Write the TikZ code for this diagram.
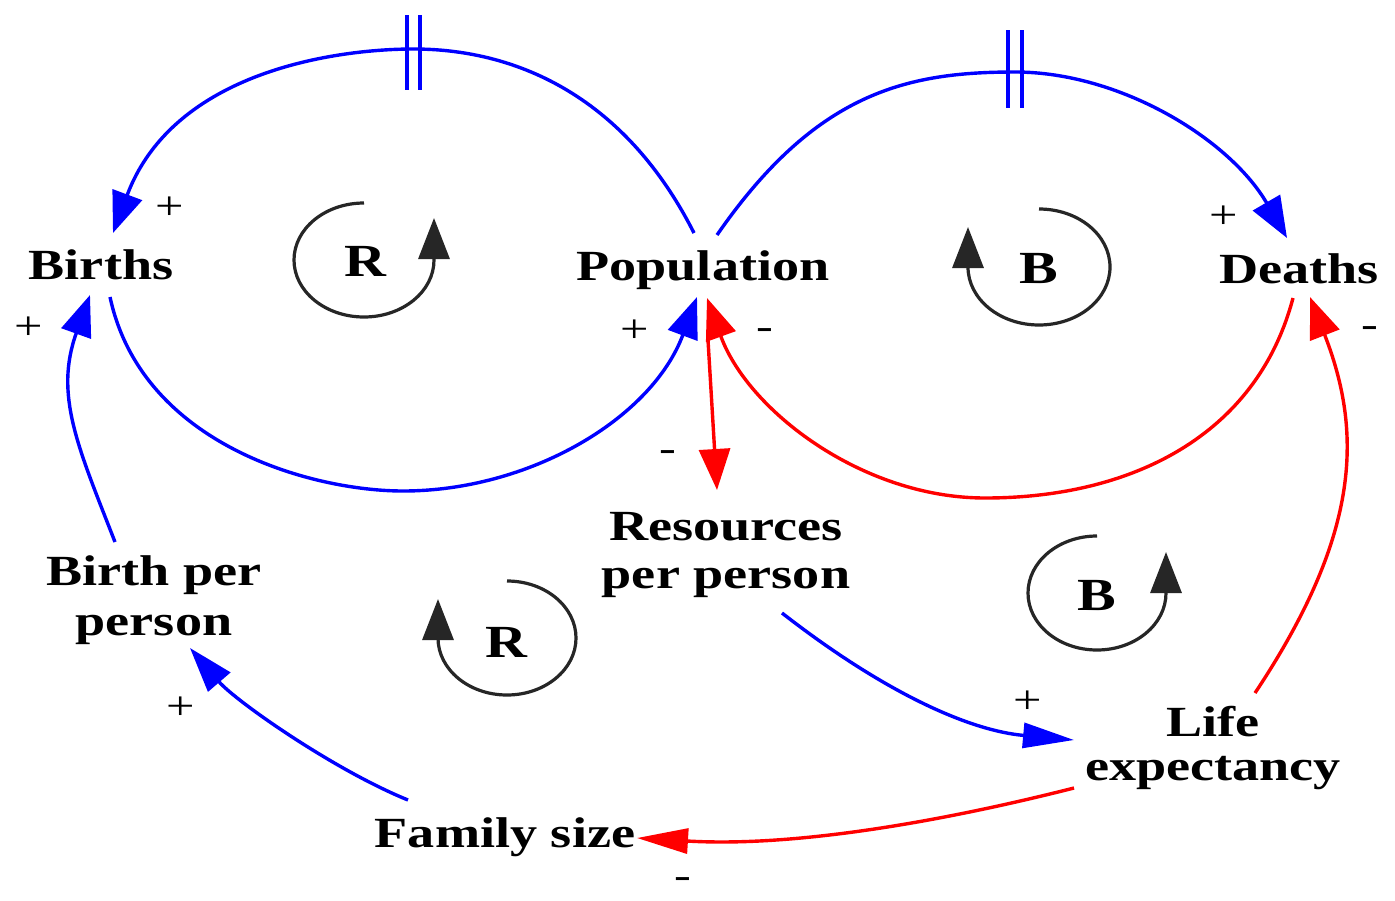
\documentclass[tikz,border=0pt]{standalone}
\usepackage{fontspec}
\newfontfamily\lblfont[FakeStretch=1.26]{Liberation Serif}
\usetikzlibrary{arrows.meta}
\begin{document}
\begin{tikzpicture}[x=1pt,y=-1pt,
  lab/.style={inner sep=0pt, anchor=base, font=\lblfont\bfseries\fontsize{43}{48}\selectfont},
  looplab/.style={inner sep=0pt, anchor=base, font=\lblfont\bfseries\fontsize{46}{50}\selectfont},
  sgn/.style={inner sep=0pt, font=\lblfont\fontsize{40}{44}\selectfont},
  bl/.style={draw=blue, line width=3.4pt},
  rd/.style={draw=red, line width=3.4pt},
  lp/.style={draw=black!85, line width=3.2pt},
  av/.style={-{Triangle[length=41pt,width=31pt]}},
  ah/.style={-{Triangle[length=51pt,width=25pt]}},
  ad/.style={-{Triangle[length=45pt,width=29pt]}},
  delaymark/.style={draw=blue, line width=3.4pt}
]
\fill[white] (0,0) rectangle (1395,900);
\useasboundingbox (0,0) rectangle (1395,900);

% variables
\node[lab] (births) at (101,279) {Births};
\node[lab] (population) at (703,280) {Population};
\node[lab] (deaths) at (1299,283) {Deaths};
\node[lab] (resources) at (726,540) {\begin{tabular}[t]{@{}c@{}}Resources\\per person\end{tabular}};
\node[lab, font=\lblfont\bfseries\fontsize{43}{50}\selectfont] (bpp) at (154,585) {\begin{tabular}[t]{@{}c@{}}Birth per\\person\end{tabular}};
\node[lab, font=\lblfont\bfseries\fontsize{43}{44}\selectfont] (life) at (1213,736) {\begin{tabular}[t]{@{}c@{}}Life\\expectancy\end{tabular}};
\node[lab] (family) at (505,847) {Family size};

% loop labels
\node[looplab] (loopR1) at (365,276) {R};
\node[looplab] (loopB1) at (1039,283) {B};
\node[looplab] (loopR2) at (506,657) {R};
\node[looplab] (loopB2) at (1097,610) {B};

% loop arrows
\draw[lp,av] (364,203) arc[start angle=270, end angle=0, x radius=70, y radius=57] -- ++(0,-42);
\draw[lp,av] (1039,209) arc[start angle=270, end angle=540, x radius=71, y radius=58] -- ++(0,-40);
\draw[lp,av] (507,581) arc[start angle=270, end angle=540, x radius=69, y radius=57] -- ++(0,-39);
\draw[lp,av] (1097,536) arc[start angle=270, end angle=0, x radius=69, y radius=57] -- ++(0,-41);

% delayed links
\coordinate (dL) at (413.5,49);
\coordinate (dR) at (1015,72);
\draw[bl,av] ([shift={(-9,-47)}]population.base) .. controls (622,91) and (510,49) .. (dL)
  .. controls (339,49) and (174,70) .. ([shift={(12,-46)}]births.base);
\draw[delaymark] ([shift={(-6.5,-34)}]dL) -- ([shift={(-6.5,41)}]dL);
\draw[delaymark] ([shift={(6.5,-34)}]dL) -- ([shift={(6.5,41)}]dL);

\draw[bl,av] ([shift={(14,-45)}]population.base) .. controls (816,92) and (907,72) .. (dR)
  .. controls (1120,72) and (1229.5,139) .. ([shift={(-12,-45)}]deaths.base);
\draw[delaymark] ([shift={(-7,-42)}]dR) -- ([shift={(-7,36)}]dR);
\draw[delaymark] ([shift={(7,-42)}]dR) -- ([shift={(7,36)}]dR);

% births -> population
\draw[bl,av] ([shift={(9,18)}]births.base) .. controls (142,446) and (314,491) .. (403,491)
  .. controls (529,491) and (651.5,419) .. ([shift={(-6,17)}]population.base);
% deaths -> population
\draw[rd,av] ([shift={(-6,15)}]deaths.base) .. controls (1256.6,436) and (1131,498) .. (985,498)
  .. controls (862,498) and (747.5,410) .. ([shift={(4,18)}]population.base);
% population -> resources
\draw[rd,av] ([shift={(5,60)}]population.base) -- ([shift={(-9,-50)}]resources.base);
% life -> deaths
\draw[rd,av] ([shift={(42,-43)}]life.base) .. controls (1362,532) and (1362,431) .. ([shift={(11,14)}]deaths.base);
% birth per person -> births
\draw[bl,av] ([shift={(-39,-43)}]bpp.base) .. controls (78,447) and (54,395) .. ([shift={(-11,16)}]births.base);
% family size -> birth per person
\draw[bl,ad] ([shift={(-97,-47)}]family.base) .. controls (334,770) and (235.5,701) .. ([shift={(36,63)}]bpp.base);
% life -> family size
\draw[rd,ah] ([shift={(-139,52)}]life.base) .. controls (928,825) and (787,847) .. ([shift={(132,-9)}]family.base);
% resources -> life
\draw[bl,ah] ([shift={(56,73)}]resources.base) .. controls (877,687) and (964,730) .. ([shift={(-139,4)}]life.base);

% polarity signs
\node[sgn] (s1) at (170,208) {+};
\node[sgn] (s2) at (29,328) {+};
\node[sgn] (s3) at (635,331) {+};
\node[sgn] (s4) at (765,334) {-};
\node[sgn] (s5) at (668,456) {-};
\node[sgn] (s6) at (1224,217) {+};
\node[sgn] (s7) at (1370,332) {-};
\node[sgn] (s8) at (1028,702) {+};
\node[sgn] (s9) at (181,708) {+};
\node[sgn] (s10) at (683,883) {-};
\end{tikzpicture}
\end{document}
